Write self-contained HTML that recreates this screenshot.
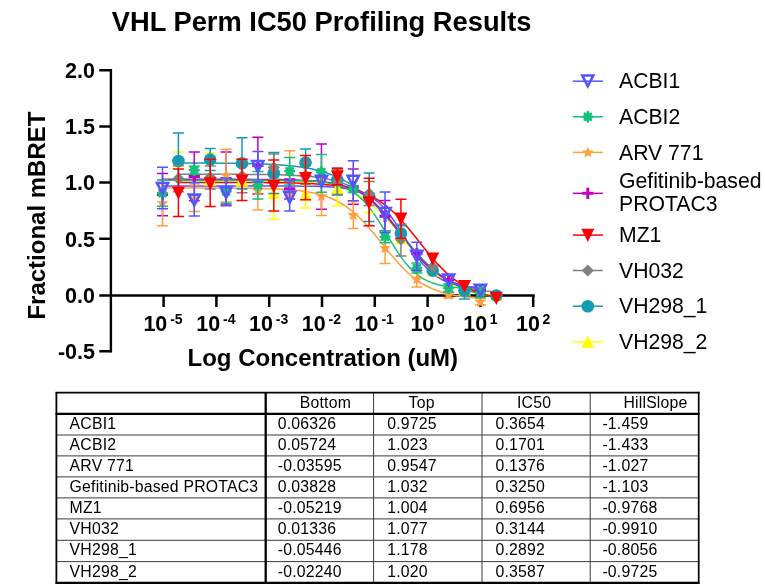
<!DOCTYPE html>
<html><head><meta charset="utf-8"><title>VHL Perm IC50 Profiling Results</title>
<style>
html,body{margin:0;padding:0;background:#fff;}
body{width:765px;height:587px;overflow:hidden;font-family:"Liberation Sans",sans-serif;}
svg{display:block;will-change:transform;}
text{font-family:"Liberation Sans",sans-serif;fill:#000;}
.ttl{font-size:27.3px;font-weight:bold;}
.ax{font-size:24px;font-weight:bold;}
.tk{font-size:21.5px;font-weight:bold;}
.sup{font-size:14px;font-weight:bold;}
.lg{font-size:21.2px;}
.tb{font-size:15.8px;letter-spacing:0.2px;}
</style></head>
<body>
<svg width="765" height="587" viewBox="0 0 765 587">
<rect width="765" height="587" fill="#fff"/>
<text x="321.6" y="30.9" text-anchor="middle" class="ttl">VHL Perm IC50 Profiling Results</text>
<text transform="translate(45.2 215.6) rotate(-90)" text-anchor="middle" class="ax">Fractional mBRET</text>
<text x="322.8" y="366.1" text-anchor="middle" class="ax">Log Concentration (uM)</text>
<path d="M110.9 69V352.6" stroke="#000" stroke-width="2.4" fill="none"/>
<path d="M99.3 70.2H110.9M99.3 126.4H110.9M99.3 182.6H110.9M99.3 238.8H110.9M99.3 295.5H110.9M99.3 351.3H110.9" stroke="#000" stroke-width="2.5" fill="none"/>
<path d="M109.7 295.5H534.8" stroke="#000" stroke-width="2.6" fill="none"/>
<path d="M163.6 295.5V307M216.4 295.5V307M269.2 295.5V307M322 295.5V307M374.8 295.5V307M427.6 295.5V307M480.4 295.5V307M533.2 295.5V307" stroke="#000" stroke-width="2.5" fill="none"/>
<text x="95" y="77.9" text-anchor="end" class="tk">2.0</text>
<text x="95" y="134.1" text-anchor="end" class="tk">1.5</text>
<text x="95" y="190.3" text-anchor="end" class="tk">1.0</text>
<text x="95" y="246.5" text-anchor="end" class="tk">0.5</text>
<text x="95" y="303.2" text-anchor="end" class="tk">0.0</text>
<text x="95" y="359" text-anchor="end" class="tk">-0.5</text>
<text x="143.4" y="330.7" class="tk">10</text><text x="170.2" y="324.2" class="sup">-5</text>
<text x="196.2" y="330.7" class="tk">10</text><text x="223" y="324.2" class="sup">-4</text>
<text x="249" y="330.7" class="tk">10</text><text x="275.8" y="324.2" class="sup">-3</text>
<text x="301.8" y="330.7" class="tk">10</text><text x="328.6" y="324.2" class="sup">-2</text>
<text x="354.6" y="330.7" class="tk">10</text><text x="381.4" y="324.2" class="sup">-1</text>
<text x="410.4" y="330.7" class="tk">10</text><text x="436.9" y="324.2" class="sup">0</text>
<text x="463.2" y="330.7" class="tk">10</text><text x="489.7" y="324.2" class="sup">1</text>
<text x="516" y="330.7" class="tk">10</text><text x="542.5" y="324.2" class="sup">2</text>
<path d="M178.41 180.66L183.71 180.66L189.01 180.66L194.31 180.67L199.6 180.67L204.9 180.68L210.2 180.68L215.5 180.69L220.8 180.7L226.1 180.71L231.39 180.73L236.69 180.75L241.99 180.77L247.29 180.8L252.59 180.84L257.88 180.89L263.18 180.95L268.48 181.02L273.78 181.11L279.08 181.23L284.37 181.38L289.67 181.56L294.97 181.79L300.27 182.07L305.57 182.42L310.87 182.86L316.16 183.4L321.46 184.07L326.76 184.9L332.06 185.93L337.36 187.18L342.65 188.72L347.95 190.58L353.25 192.82L358.55 195.5L363.85 198.66L369.14 202.36L374.44 206.62L379.74 211.44L385.04 216.81L390.34 222.65L395.64 228.88L400.93 235.37L406.23 241.95L411.53 248.46L416.83 254.75L422.13 260.68L427.42 266.14L432.72 271.07L438.02 275.44L443.32 279.24L448.62 282.51L453.91 285.27L459.21 287.6L464.51 289.52L469.81 291.12L475.11 292.42L480.41 293.49L485.7 294.35L491 295.05L496.3 295.62" fill="none" stroke="#ffff00" stroke-width="1.5"/>
<path d="M178.41 162.93L183.71 162.95L189.01 162.96L194.31 162.98L199.6 163L204.9 163.03L210.2 163.06L215.5 163.09L220.8 163.14L226.1 163.19L231.39 163.26L236.69 163.33L241.99 163.43L247.29 163.54L252.59 163.68L257.88 163.84L263.18 164.03L268.48 164.27L273.78 164.55L279.08 164.89L284.37 165.29L289.67 165.77L294.97 166.35L300.27 167.04L305.57 167.87L310.87 168.84L316.16 170L321.46 171.37L326.76 172.98L332.06 174.87L337.36 177.07L342.65 179.62L347.95 182.56L353.25 185.92L358.55 189.73L363.85 193.99L369.14 198.71L374.44 203.87L379.74 209.44L385.04 215.36L390.34 221.55L395.64 227.92L400.93 234.37L406.23 240.78L411.53 247.04L416.83 253.06L422.13 258.75L427.42 264.05L432.72 268.92L438.02 273.33L443.32 277.28L448.62 280.79L453.91 283.86L459.21 286.54L464.51 288.85L469.81 290.84L475.11 292.53L480.41 293.98L485.7 295.2L491 296.23L496.3 297.1" fill="none" stroke="#149ab2" stroke-width="1.5"/>
<path d="M178.41 174.25L183.71 174.25L189.01 174.25L194.31 174.25L199.6 174.26L204.9 174.26L210.2 174.27L215.5 174.28L220.8 174.29L226.1 174.3L231.39 174.32L236.69 174.34L241.99 174.36L247.29 174.39L252.59 174.43L257.88 174.48L263.18 174.55L268.48 174.62L273.78 174.72L279.08 174.85L284.37 175L289.67 175.2L294.97 175.45L300.27 175.75L305.57 176.14L310.87 176.62L316.16 177.21L321.46 177.95L326.76 178.87L332.06 180.01L337.36 181.4L342.65 183.11L347.95 185.19L353.25 187.69L358.55 190.67L363.85 194.2L369.14 198.3L374.44 203L379.74 208.3L385.04 214.14L390.34 220.44L395.64 227.08L400.93 233.89L406.23 240.72L411.53 247.37L416.83 253.69L422.13 259.56L427.42 264.88L432.72 269.61L438.02 273.75L443.32 277.3L448.62 280.31L453.91 282.83L459.21 284.93L464.51 286.65L469.81 288.06L475.11 289.21L480.41 290.14L485.7 290.89L491 291.49L496.3 291.98" fill="none" stroke="#808080" stroke-width="1.5"/>
<path d="M178.41 182.45L183.71 182.46L189.01 182.46L194.31 182.46L199.6 182.46L204.9 182.46L210.2 182.47L215.5 182.47L220.8 182.48L226.1 182.48L231.39 182.49L236.69 182.5L241.99 182.51L247.29 182.53L252.59 182.55L257.88 182.57L263.18 182.6L268.48 182.64L273.78 182.69L279.08 182.75L284.37 182.83L289.67 182.92L294.97 183.04L300.27 183.19L305.57 183.38L310.87 183.61L316.16 183.9L321.46 184.26L326.76 184.71L332.06 185.27L337.36 185.97L342.65 186.83L347.95 187.88L353.25 189.18L358.55 190.77L363.85 192.69L369.14 195.01L374.44 197.78L379.74 201.05L385.04 204.87L390.34 209.27L395.64 214.24L400.93 219.76L406.23 225.77L411.53 232.15L416.83 238.77L422.13 245.46L427.42 252.07L432.72 258.42L438.02 264.39L443.32 269.88L448.62 274.81L453.91 279.16L459.21 282.94L464.51 286.17L469.81 288.9L475.11 291.19L480.41 293.09L485.7 294.65L491 295.93L496.3 296.97" fill="none" stroke="#ff0000" stroke-width="1.5"/>
<path d="M162.51 179.3L167.81 179.3L173.11 179.3L178.41 179.3L183.7 179.3L189 179.3L194.3 179.31L199.6 179.31L204.9 179.31L210.2 179.31L215.49 179.31L220.79 179.32L226.09 179.32L231.39 179.33L236.69 179.34L241.98 179.35L247.28 179.37L252.58 179.39L257.88 179.41L263.18 179.44L268.47 179.48L273.77 179.54L279.07 179.6L284.37 179.69L289.67 179.81L294.97 179.95L300.26 180.14L305.56 180.38L310.86 180.69L316.16 181.09L321.46 181.59L326.75 182.24L332.05 183.07L337.35 184.11L342.65 185.43L347.95 187.09L353.24 189.15L358.54 191.69L363.84 194.79L369.14 198.52L374.44 202.91L379.74 208.01L385.03 213.77L390.33 220.12L395.63 226.93L400.93 233.99L406.23 241.09L411.52 248L416.82 254.52L422.12 260.5L427.42 265.83L432.72 270.46L438.01 274.41L443.31 277.71L448.61 280.44L453.91 282.65L459.21 284.44L464.51 285.87L469.8 287L475.1 287.89L480.4 288.6" fill="none" stroke="#c000c0" stroke-width="1.5"/>
<path d="M162.51 188L167.81 188L173.11 188.01L178.41 188.01L183.7 188.01L189 188.02L194.3 188.02L199.6 188.03L204.9 188.04L210.2 188.05L215.49 188.06L220.79 188.08L226.09 188.1L231.39 188.13L236.69 188.16L241.98 188.21L247.28 188.26L252.58 188.33L257.88 188.42L263.18 188.54L268.47 188.68L273.77 188.86L279.07 189.09L284.37 189.38L289.67 189.74L294.97 190.2L300.26 190.78L305.56 191.5L310.86 192.4L316.16 193.52L321.46 194.9L326.75 196.61L332.05 198.7L337.35 201.22L342.65 204.25L347.95 207.83L353.24 211.99L358.54 216.76L363.84 222.11L369.14 227.96L374.44 234.23L379.74 240.75L385.03 247.35L390.33 253.85L395.63 260.08L400.93 265.9L406.23 271.19L411.52 275.89L416.82 280L422.12 283.52L427.42 286.49L432.72 288.97L438.01 291.02L443.31 292.69L448.61 294.05L453.91 295.14L459.21 296.02L464.51 296.73L469.8 297.29L475.1 297.74L480.4 298.09" fill="none" stroke="#ffa040" stroke-width="1.5"/>
<path d="M162.51 180.31L167.81 180.31L173.11 180.31L178.41 180.31L183.7 180.31L189 180.31L194.3 180.31L199.6 180.31L204.9 180.31L210.2 180.31L215.49 180.31L220.79 180.32L226.09 180.32L231.39 180.32L236.69 180.32L241.98 180.33L247.28 180.33L252.58 180.34L257.88 180.35L263.18 180.36L268.47 180.38L273.77 180.4L279.07 180.44L284.37 180.49L289.67 180.56L294.97 180.66L300.26 180.79L305.56 180.98L310.86 181.24L316.16 181.6L321.46 182.09L326.75 182.78L332.05 183.71L337.35 184.99L342.65 186.72L347.95 189.03L353.24 192.08L358.54 196.03L363.84 201.02L369.14 207.14L374.44 214.37L379.74 222.54L385.03 231.33L390.33 240.3L395.63 248.97L400.93 256.92L406.23 263.86L411.52 269.68L416.82 274.39L422.12 278.08L427.42 280.92L432.72 283.07L438.01 284.66L443.31 285.84L448.61 286.7L453.91 287.33L459.21 287.78L464.51 288.11L469.8 288.35L475.1 288.52L480.4 288.64" fill="none" stroke="#14c07a" stroke-width="1.5"/>
<path d="M162.51 185.99L167.81 185.99L173.11 185.99L178.41 185.99L183.7 185.99L189 185.99L194.3 185.99L199.6 185.99L204.9 185.99L210.2 185.99L215.49 185.99L220.79 185.99L226.09 185.99L231.39 186L236.69 186L241.98 186L247.28 186L252.58 186L257.88 186L263.18 186.01L268.47 186.01L273.77 186.02L279.07 186.03L284.37 186.04L289.67 186.06L294.97 186.09L300.26 186.13L305.56 186.18L310.86 186.26L316.16 186.36L321.46 186.51L326.75 186.71L332.05 187L337.35 187.4L342.65 187.95L347.95 188.72L353.24 189.77L358.54 191.2L363.84 193.15L369.14 195.74L374.44 199.14L379.74 203.51L385.03 208.96L390.33 215.51L395.63 223.06L400.93 231.33L406.23 239.92L411.52 248.36L416.82 256.2L422.12 263.12L427.42 268.96L432.72 273.7L438.01 277.43L443.31 280.3L448.61 282.45L453.91 284.05L459.21 285.23L464.51 286.08L469.8 286.7L475.1 287.15L480.4 287.47" fill="none" stroke="#5555ff" stroke-width="1.5"/>
<path d="M369.14 181.6V212.4M363.64 181.6H374.64M363.64 212.4H374.64M337.36 178.4V205.7M331.86 178.4H342.86M331.86 205.7H342.86M305.57 185.1V207.9M300.07 185.1H311.07M300.07 207.9H311.07M273.78 166.4V219.2M268.28 166.4H279.28M268.28 219.2H279.28M241.99 175.4V185.4M236.49 175.4H247.49M236.49 185.4H247.49M210.2 153.1V179.6M204.7 153.1H215.7M178.41 152.1V166.5M172.91 152.1H183.91M172.91 166.5H183.91" fill="none" stroke="#ffff00" stroke-width="1.5"/>
<path d="M490 301.3H502.6L496.3 288.6Z" fill="#ffff00"/>
<path d="M458.21 295.7H470.81L464.51 283Z" fill="#ffff00"/>
<path d="M426.42 276.4H439.02L432.72 263.7Z" fill="#ffff00"/>
<path d="M394.63 244.2H407.23L400.93 231.5Z" fill="#ffff00"/>
<path d="M331.06 194.6H343.66L337.36 181.9Z" fill="#ffff00"/>
<path d="M299.27 200.2H311.87L305.57 187.5Z" fill="#ffff00"/>
<path d="M267.48 199H280.08L273.78 186.3Z" fill="#ffff00"/>
<path d="M235.69 186.6H248.29L241.99 173.9Z" fill="#ffff00"/>
<path d="M203.9 185.8H216.5L210.2 173.1Z" fill="#ffff00"/>
<path d="M464.51 290.8V299M459.01 299H470.01M400.93 225.7V238.5M395.43 225.7H406.43M395.43 238.5H406.43M369.14 173.1V221.6M363.64 173.1H374.64M363.64 221.6H374.64M337.36 168.2V194.9M331.86 168.2H342.86M331.86 194.9H342.86M305.57 149.1V176.1M300.07 149.1H311.07M300.07 176.1H311.07M273.78 152.5V193.4M268.28 152.5H279.28M268.28 193.4H279.28M241.99 137.8V188.9M236.49 137.8H247.49M236.49 188.9H247.49M210.2 148.5V170.5M204.7 148.5H215.7M204.7 170.5H215.7M178.41 132.9V188.5M172.91 132.9H183.91M172.91 188.5H183.91" fill="none" stroke="#149ab2" stroke-width="1.5"/>
<circle cx="496.3" cy="295.5" r="6.3" fill="#149ab2"/>
<circle cx="464.51" cy="290.8" r="6.3" fill="#149ab2"/>
<circle cx="432.72" cy="270.6" r="6.3" fill="#149ab2"/>
<circle cx="400.93" cy="233.5" r="6.3" fill="#149ab2"/>
<circle cx="369.14" cy="197" r="6.3" fill="#149ab2"/>
<circle cx="337.36" cy="180" r="6.3" fill="#149ab2"/>
<circle cx="305.57" cy="162.6" r="6.3" fill="#149ab2"/>
<circle cx="273.78" cy="173.2" r="6.3" fill="#149ab2"/>
<circle cx="241.99" cy="163.4" r="6.3" fill="#149ab2"/>
<circle cx="210.2" cy="159.6" r="6.3" fill="#149ab2"/>
<circle cx="178.41" cy="161" r="6.3" fill="#149ab2"/>
<path d="M400.93 224.2V256M395.43 224.2H406.43M395.43 256H406.43M369.14 181.6V205.5M363.64 181.6H374.64M363.64 205.5H374.64M337.36 169.8V194.4M331.86 169.8H342.86M331.86 194.4H342.86M305.57 162.5V184.5M300.07 162.5H311.07M300.07 184.5H311.07M273.78 154.1V179.5M268.28 154.1H279.28M268.28 179.5H279.28M241.99 159.5V192.7M236.49 159.5H247.49M236.49 192.7H247.49M210.2 165.9V188.9M204.7 165.9H215.7M204.7 188.9H215.7M178.41 165.5V191.7M172.91 165.5H183.91M172.91 191.7H183.91" fill="none" stroke="#808080" stroke-width="1.5"/>
<path d="M426.62 266.8L432.72 260.7L438.82 266.8L432.72 272.9Z" fill="#808080"/>
<path d="M394.83 239.5H407.03L400.93 245.6Z" fill="#808080"/>
<path d="M363.04 193.6L369.14 187.5L375.24 193.6L369.14 199.7Z" fill="#808080"/>
<path d="M331.26 181.7L337.36 175.6L343.46 181.7L337.36 187.8Z" fill="#808080"/>
<path d="M299.47 175.5L305.57 169.4L311.67 175.5L305.57 181.6Z" fill="#808080"/>
<path d="M267.68 167.5L273.78 161.4L279.88 167.5L273.78 173.6Z" fill="#808080"/>
<path d="M235.89 176L241.99 169.9L248.09 176L241.99 182.1Z" fill="#808080"/>
<path d="M204.1 177.3L210.2 171.2L216.3 177.3L210.2 183.4Z" fill="#808080"/>
<path d="M172.31 178.7L178.41 172.6L184.51 178.7L178.41 184.8Z" fill="#808080"/>
<path d="M400.93 199.2V238.4M395.43 199.2H406.43M395.43 238.4H406.43M369.14 178.3V225.8M363.64 178.3H374.64M363.64 225.8H374.64M337.36 168.2V184.8M331.86 168.2H342.86M331.86 184.8H342.86M305.57 155.4V199.7M300.07 155.4H311.07M300.07 199.7H311.07M273.78 160.1V211M268.28 160.1H279.28M268.28 211H279.28M241.99 159.3V200.5M236.49 159.3H247.49M236.49 200.5H247.49M210.2 159.3V206.6M204.7 159.3H215.7M204.7 206.6H215.7M178.41 169V216.4M172.91 169H183.91M172.91 216.4H183.91" fill="none" stroke="#ff0000" stroke-width="1.5"/>
<path d="M489.8 291.7H502.8L496.3 304.9Z" fill="#ff0000"/>
<path d="M458.01 279.9H471.01L464.51 293.1Z" fill="#ff0000"/>
<path d="M426.22 252.5H439.22L432.72 265.7Z" fill="#ff0000"/>
<path d="M394.43 212.5H407.43L400.93 225.7Z" fill="#ff0000"/>
<path d="M362.64 196.2H375.64L369.14 209.4Z" fill="#ff0000"/>
<path d="M330.86 170.2H343.86L337.36 183.4Z" fill="#ff0000"/>
<path d="M299.07 172.1H312.07L305.57 185.3Z" fill="#ff0000"/>
<path d="M267.28 180.1H280.28L273.78 193.3Z" fill="#ff0000"/>
<path d="M235.49 174.4H248.49L241.99 187.6Z" fill="#ff0000"/>
<path d="M203.7 177.3H216.7L210.2 190.5Z" fill="#ff0000"/>
<path d="M171.91 186.6H184.91L178.41 199.8Z" fill="#ff0000"/>
<path d="M385.03 200.4V230.8M379.53 200.4H390.53M379.53 230.8H390.53M353.24 169.1V204.3M347.74 169.1H358.74M347.74 204.3H358.74M321.46 144.1V209.3M315.96 144.1H326.96M315.96 209.3H326.96M289.67 178.9V199M284.17 178.9H295.17M284.17 199H295.17M257.88 137.2V194M252.38 137.2H263.38M252.38 194H263.38M226.09 152.1V205M220.59 152.1H231.59M220.59 205H231.59M194.3 152.1V200.8M188.8 152.1H199.8M188.8 200.8H199.8M162.51 173.4V215.7M157.01 173.4H168.01M157.01 215.7H168.01" fill="none" stroke="#c000c0" stroke-width="1.5"/>
<path d="M474.8 290H486M480.4 284.4V295.6" stroke="#c000c0" stroke-width="3" fill="none"/>
<path d="M443.01 279.5H454.21M448.61 273.9V285.1" stroke="#c000c0" stroke-width="3" fill="none"/>
<path d="M411.22 253.5H422.42M416.82 247.9V259.1" stroke="#c000c0" stroke-width="3" fill="none"/>
<path d="M379.43 216.3H390.63M385.03 210.7V221.9" stroke="#c000c0" stroke-width="3" fill="none"/>
<path d="M347.64 186.7H358.84M353.24 181.1V192.3" stroke="#c000c0" stroke-width="3" fill="none"/>
<path d="M315.86 176.7H327.06M321.46 171.1V182.3" stroke="#c000c0" stroke-width="3" fill="none"/>
<path d="M284.07 188.7H295.27M289.67 183.1V194.3" stroke="#c000c0" stroke-width="3" fill="none"/>
<path d="M252.28 165.6H263.48M257.88 160V171.2" stroke="#c000c0" stroke-width="3" fill="none"/>
<path d="M220.49 178.4H231.69M226.09 172.8V184" stroke="#c000c0" stroke-width="3" fill="none"/>
<path d="M188.7 176.4H199.9M194.3 170.8V182" stroke="#c000c0" stroke-width="3" fill="none"/>
<path d="M156.91 194.6H168.11M162.51 189V200.2" stroke="#c000c0" stroke-width="3" fill="none"/>
<path d="M480.4 298.8V304.8M474.9 298.8H485.9M474.9 304.8H485.9M448.61 292V298M443.11 292H454.11M443.11 298H454.11M416.82 271.3V286.9M411.32 271.3H422.32M411.32 286.9H422.32M385.03 232V263.5M379.53 232H390.53M379.53 263.5H390.53M353.24 201.4V228.6M347.74 201.4H358.74M347.74 228.6H358.74M321.46 176.5V215.4M315.96 176.5H326.96M315.96 215.4H326.96M289.67 150.8V194.8M284.17 150.8H295.17M257.88 182.1V210M252.38 182.1H263.38M252.38 210H263.38M226.09 149.3V202.1M220.59 149.3H231.59M220.59 202.1H231.59M194.3 185.1V211.6M188.8 185.1H199.8M188.8 211.6H199.8M162.51 180.4V225.8M157.01 180.4H168.01M157.01 225.8H168.01" fill="none" stroke="#ffa040" stroke-width="1.5"/>
<polygon points="480.4,295.8 481.99,299.82 486.3,300.08 482.97,302.83 484.04,307.02 480.4,304.7 476.76,307.02 477.83,302.83 474.5,300.08 478.81,299.82" fill="#ffa040"/>
<polygon points="448.61,289 450.2,293.02 454.51,293.28 451.18,296.03 452.26,300.22 448.61,297.9 444.97,300.22 446.04,296.03 442.71,293.28 447.02,293.02" fill="#ffa040"/>
<polygon points="416.82,273.1 418.41,277.12 422.72,277.38 419.39,280.13 420.47,284.32 416.82,282 413.18,284.32 414.25,280.13 410.93,277.38 415.24,277.12" fill="#ffa040"/>
<polygon points="385.03,242 386.62,246.02 390.93,246.28 387.6,249.03 388.68,253.22 385.03,250.9 381.39,253.22 382.47,249.03 379.14,246.28 383.45,246.02" fill="#ffa040"/>
<polygon points="353.24,209 354.83,213.02 359.14,213.28 355.81,216.03 356.89,220.22 353.24,217.9 349.6,220.22 350.68,216.03 347.35,213.28 351.66,213.02" fill="#ffa040"/>
<polygon points="321.46,190 323.04,194.02 327.35,194.28 324.02,197.03 325.1,201.22 321.46,198.9 317.81,201.22 318.89,197.03 315.56,194.28 319.87,194.02" fill="#ffa040"/>
<polygon points="289.67,188.8 291.25,192.82 295.56,193.08 292.24,195.83 293.31,200.02 289.67,197.7 286.02,200.02 287.1,195.83 283.77,193.08 288.08,192.82" fill="#ffa040"/>
<polygon points="257.88,184.5 259.47,188.52 263.78,188.78 260.45,191.53 261.52,195.72 257.88,193.4 254.23,195.72 255.31,191.53 251.98,188.78 256.29,188.52" fill="#ffa040"/>
<polygon points="226.09,169.5 227.68,173.52 231.99,173.78 228.66,176.53 229.73,180.72 226.09,178.4 222.45,180.72 223.52,176.53 220.19,173.78 224.5,173.52" fill="#ffa040"/>
<polygon points="194.3,192.6 195.89,196.62 200.2,196.88 196.87,199.63 197.95,203.82 194.3,201.5 190.66,203.82 191.73,199.63 188.4,196.88 192.71,196.62" fill="#ffa040"/>
<polygon points="162.51,197.1 164.1,201.12 168.41,201.38 165.08,204.13 166.16,208.32 162.51,206 158.87,208.32 159.94,204.13 156.62,201.38 160.93,201.12" fill="#ffa040"/>
<path d="M480.4 287.5V297.5M474.9 287.5H485.9M474.9 297.5H485.9M448.61 284.1V292.1M443.11 284.1H454.11M443.11 292.1H454.11M416.82 263V273M411.32 263H422.32M411.32 273H422.32M385.03 230.8V242.8M379.53 230.8H390.53M379.53 242.8H390.53M353.24 186.2V192.2M347.74 186.2H358.74M347.74 192.2H358.74M321.46 154.4V192.3M315.96 154.4H326.96M315.96 192.3H326.96M289.67 157.4V185M284.17 157.4H295.17M284.17 185H295.17M257.88 171.4V199M252.38 171.4H263.38M252.38 199H263.38M226.09 178.8V203.2M220.59 178.8H231.59M220.59 203.2H231.59M194.3 166.2V174.2M188.8 166.2H199.8M188.8 174.2H199.8M162.51 179.9V206.2M157.01 179.9H168.01M157.01 206.2H168.01" fill="none" stroke="#14c07a" stroke-width="1.5"/>
<circle cx="480.4" cy="292.5" r="3.6" fill="#14c07a"/><path d="M480.4 292.5L484.65 292.5M480.4 292.5L483.41 295.51M480.4 292.5L480.4 297.2M480.4 292.5L477.39 295.51M480.4 292.5L476.15 292.5M480.4 292.5L477.39 289.49M480.4 292.5L480.4 287.8M480.4 292.5L483.41 289.49" stroke="#14c07a" stroke-width="2.7" stroke-linecap="round" fill="none"/>
<circle cx="448.61" cy="288.1" r="3.6" fill="#14c07a"/><path d="M448.61 288.1L452.86 288.1M448.61 288.1L451.62 291.11M448.61 288.1L448.61 292.8M448.61 288.1L445.61 291.11M448.61 288.1L444.36 288.1M448.61 288.1L445.61 285.09M448.61 288.1L448.61 283.4M448.61 288.1L451.62 285.09" stroke="#14c07a" stroke-width="2.7" stroke-linecap="round" fill="none"/>
<circle cx="416.82" cy="268" r="3.6" fill="#14c07a"/><path d="M416.82 268L421.07 268M416.82 268L419.83 271.01M416.82 268L416.82 272.7M416.82 268L413.82 271.01M416.82 268L412.57 268M416.82 268L413.82 264.99M416.82 268L416.82 263.3M416.82 268L419.83 264.99" stroke="#14c07a" stroke-width="2.7" stroke-linecap="round" fill="none"/>
<circle cx="385.03" cy="236.8" r="3.6" fill="#14c07a"/><path d="M385.03 236.8L389.28 236.8M385.03 236.8L388.04 239.81M385.03 236.8L385.03 241.5M385.03 236.8L382.03 239.81M385.03 236.8L380.78 236.8M385.03 236.8L382.03 233.79M385.03 236.8L385.03 232.1M385.03 236.8L388.04 233.79" stroke="#14c07a" stroke-width="2.7" stroke-linecap="round" fill="none"/>
<circle cx="353.24" cy="189.2" r="3.6" fill="#14c07a"/><path d="M353.24 189.2L357.49 189.2M353.24 189.2L356.25 192.21M353.24 189.2L353.24 193.9M353.24 189.2L350.24 192.21M353.24 189.2L348.99 189.2M353.24 189.2L350.24 186.19M353.24 189.2L353.24 184.5M353.24 189.2L356.25 186.19" stroke="#14c07a" stroke-width="2.7" stroke-linecap="round" fill="none"/>
<circle cx="321.46" cy="172" r="3.6" fill="#14c07a"/><path d="M321.46 172L325.71 172M321.46 172L324.46 175.01M321.46 172L321.46 176.7M321.46 172L318.45 175.01M321.46 172L317.21 172M321.46 172L318.45 168.99M321.46 172L321.46 167.3M321.46 172L324.46 168.99" stroke="#14c07a" stroke-width="2.7" stroke-linecap="round" fill="none"/>
<circle cx="289.67" cy="171.2" r="3.6" fill="#14c07a"/><path d="M289.67 171.2L293.92 171.2M289.67 171.2L292.67 174.21M289.67 171.2L289.67 175.9M289.67 171.2L286.66 174.21M289.67 171.2L285.42 171.2M289.67 171.2L286.66 168.19M289.67 171.2L289.67 166.5M289.67 171.2L292.67 168.19" stroke="#14c07a" stroke-width="2.7" stroke-linecap="round" fill="none"/>
<circle cx="257.88" cy="185.2" r="3.6" fill="#14c07a"/><path d="M257.88 185.2L262.13 185.2M257.88 185.2L260.88 188.21M257.88 185.2L257.88 189.9M257.88 185.2L254.87 188.21M257.88 185.2L253.63 185.2M257.88 185.2L254.87 182.19M257.88 185.2L257.88 180.5M257.88 185.2L260.88 182.19" stroke="#14c07a" stroke-width="2.7" stroke-linecap="round" fill="none"/>
<circle cx="226.09" cy="191.5" r="3.6" fill="#14c07a"/><path d="M226.09 191.5L230.34 191.5M226.09 191.5L229.1 194.51M226.09 191.5L226.09 196.2M226.09 191.5L223.08 194.51M226.09 191.5L221.84 191.5M226.09 191.5L223.08 188.49M226.09 191.5L226.09 186.8M226.09 191.5L229.1 188.49" stroke="#14c07a" stroke-width="2.7" stroke-linecap="round" fill="none"/>
<circle cx="194.3" cy="170.2" r="3.6" fill="#14c07a"/><path d="M194.3 170.2L198.55 170.2M194.3 170.2L197.31 173.21M194.3 170.2L194.3 174.9M194.3 170.2L191.3 173.21M194.3 170.2L190.05 170.2M194.3 170.2L191.3 167.19M194.3 170.2L194.3 165.5M194.3 170.2L197.31 167.19" stroke="#14c07a" stroke-width="2.7" stroke-linecap="round" fill="none"/>
<circle cx="162.51" cy="193.2" r="3.6" fill="#14c07a"/><path d="M162.51 193.2L166.76 193.2M162.51 193.2L165.52 196.21M162.51 193.2L162.51 197.9M162.51 193.2L159.51 196.21M162.51 193.2L158.26 193.2M162.51 193.2L159.51 190.19M162.51 193.2L162.51 188.5M162.51 193.2L165.52 190.19" stroke="#14c07a" stroke-width="2.7" stroke-linecap="round" fill="none"/>
<path d="M416.82 242.2V270.2M411.32 242.2H422.32M411.32 270.2H422.32M385.03 192V232.6M379.53 192H390.53M379.53 232.6H390.53M353.24 160.7V200.7M347.74 160.7H358.74M347.74 200.7H358.74M289.67 181.1V211M284.17 181.1H295.17M284.17 211H295.17M257.88 151.5V182.1M252.38 151.5H263.38M252.38 182.1H263.38M226.09 178.2V205.8M220.59 178.2H231.59M220.59 205.8H231.59M194.3 182.7V215.9M188.8 182.7H199.8M188.8 215.9H199.8M162.51 167.2V208.7M157.01 167.2H168.01M157.01 208.7H168.01" fill="none" stroke="#5555ff" stroke-width="1.5"/>
<path d="M474.85 284.85H485.95L480.4 295.65Z" fill="none" stroke="#5555ff" stroke-width="2.6" stroke-linejoin="miter"/>
<path d="M443.06 274.65H454.16L448.61 285.45Z" fill="none" stroke="#5555ff" stroke-width="2.6" stroke-linejoin="miter"/>
<path d="M411.27 250.75H422.37L416.82 261.55Z" fill="none" stroke="#5555ff" stroke-width="2.6" stroke-linejoin="miter"/>
<path d="M379.48 208.05H390.58L385.03 218.85Z" fill="none" stroke="#5555ff" stroke-width="2.6" stroke-linejoin="miter"/>
<path d="M347.69 175.75H358.79L353.24 186.55Z" fill="none" stroke="#5555ff" stroke-width="2.6" stroke-linejoin="miter"/>
<path d="M315.91 175.85H327.01L321.46 186.65Z" fill="none" stroke="#5555ff" stroke-width="2.6" stroke-linejoin="miter"/>
<path d="M284.12 191.85H295.22L289.67 202.65Z" fill="none" stroke="#5555ff" stroke-width="2.6" stroke-linejoin="miter"/>
<path d="M252.33 161.05H263.43L257.88 171.85Z" fill="none" stroke="#5555ff" stroke-width="2.6" stroke-linejoin="miter"/>
<path d="M220.54 187.15H231.64L226.09 197.95Z" fill="none" stroke="#5555ff" stroke-width="2.6" stroke-linejoin="miter"/>
<path d="M188.75 194.65H199.85L194.3 205.45Z" fill="none" stroke="#5555ff" stroke-width="2.6" stroke-linejoin="miter"/>
<path d="M156.96 182.95H168.06L162.51 193.75Z" fill="none" stroke="#5555ff" stroke-width="2.6" stroke-linejoin="miter"/>
<path d="M572.8 81.2H602.9" stroke="#5555ff" stroke-width="1.5" fill="none"/>
<path d="M582.25 75.45H593.35L587.8 86.25Z" fill="none" stroke="#5555ff" stroke-width="2.6" stroke-linejoin="miter"/>
<text x="619" y="88.4" class="lg">ACBI1</text>
<path d="M572.8 116.8H602.9" stroke="#14c07a" stroke-width="1.5" fill="none"/>
<circle cx="587.8" cy="116.8" r="3.6" fill="#14c07a"/><path d="M587.8 116.8L592.05 116.8M587.8 116.8L590.81 119.81M587.8 116.8L587.8 121.5M587.8 116.8L584.79 119.81M587.8 116.8L583.55 116.8M587.8 116.8L584.79 113.79M587.8 116.8L587.8 112.1M587.8 116.8L590.81 113.79" stroke="#14c07a" stroke-width="2.7" stroke-linecap="round" fill="none"/>
<text x="619" y="124" class="lg">ACBI2</text>
<path d="M572.8 152.4H602.9" stroke="#ffa040" stroke-width="1.5" fill="none"/>
<polygon points="587.8,146.4 589.39,150.42 593.7,150.68 590.37,153.43 591.44,157.62 587.8,155.3 584.16,157.62 585.23,153.43 581.9,150.68 586.21,150.42" fill="#ffa040"/>
<text x="619" y="159.6" class="lg">ARV 771</text>
<path d="M572.8 193.3H602.9" stroke="#c000c0" stroke-width="1.5" fill="none"/>
<path d="M582.2 193.3H593.4M587.8 187.7V198.9" stroke="#c000c0" stroke-width="3" fill="none"/>
<text x="619" y="187.7" class="lg">Gefitinib-based</text>
<text x="619" y="211.3" class="lg">PROTAC3</text>
<path d="M572.8 235.1H602.9" stroke="#ff0000" stroke-width="1.5" fill="none"/>
<path d="M581.3 228.8H594.3L587.8 242Z" fill="#ff0000"/>
<text x="619" y="242.3" class="lg">MZ1</text>
<path d="M572.8 270.5H602.9" stroke="#808080" stroke-width="1.5" fill="none"/>
<path d="M581.7 270.5L587.8 264.4L593.9 270.5L587.8 276.6Z" fill="#808080"/>
<text x="619" y="277.7" class="lg">VH032</text>
<path d="M572.8 306.2H602.9" stroke="#149ab2" stroke-width="1.5" fill="none"/>
<circle cx="587.8" cy="306.2" r="6.3" fill="#149ab2"/>
<text x="619" y="313.4" class="lg">VH298_1</text>
<path d="M572.8 341.9H602.9" stroke="#ffff00" stroke-width="1.5" fill="none"/>
<path d="M581.5 348.1H594.1L587.8 335.4Z" fill="#ffff00"/>
<text x="619" y="349.1" class="lg">VH298_2</text>
<path d="M56 435H699.5M56 455.9H699.5M56 476.9H699.5M56 497.9H699.5M56 518.9H699.5M56 540.3H699.5M56 561.6H699.5M373.6 393V583M482 393V583M590.2 393V583" stroke="#3a3a3a" stroke-width="1" fill="none"/>
<path d="M55.6 392.6H699.5" stroke="#000" stroke-width="1.7" fill="none"/>
<path d="M56.4 392.3V584" stroke="#000" stroke-width="1.8" fill="none"/>
<path d="M55.6 413.9H699.5M265.7 392.3V584M55.6 582.9H699.5" stroke="#000" stroke-width="2.3" fill="none"/><path d="M698.7 391.8V584" stroke="#000" stroke-width="1.7" fill="none"/>
<text x="299.8" y="407.6" class="tb">Bottom</text>
<text x="408.6" y="407.6" class="tb">Top</text>
<text x="517.0" y="407.6" class="tb">IC50</text>
<text x="623.4" y="407.6" class="tb">HillSlope</text>
<text x="69.6" y="428.6" class="tb">ACBI1</text>
<text x="277.8" y="428.6" class="tb">0.06326</text>
<text x="387.3" y="428.6" class="tb">0.9725</text>
<text x="495.5" y="428.6" class="tb">0.3654</text>
<text x="602.4" y="428.6" class="tb">-1.459</text>
<text x="69.6" y="449.5" class="tb">ACBI2</text>
<text x="277.8" y="449.5" class="tb">0.05724</text>
<text x="387.3" y="449.5" class="tb">1.023</text>
<text x="495.5" y="449.5" class="tb">0.1701</text>
<text x="602.4" y="449.5" class="tb">-1.433</text>
<text x="69.6" y="470.5" class="tb">ARV 771</text>
<text x="277.8" y="470.5" class="tb">-0.03595</text>
<text x="387.3" y="470.5" class="tb">0.9547</text>
<text x="495.5" y="470.5" class="tb">0.1376</text>
<text x="602.4" y="470.5" class="tb">-1.027</text>
<text x="69.6" y="491.5" class="tb">Gefitinib-based PROTAC3</text>
<text x="277.8" y="491.5" class="tb">0.03828</text>
<text x="387.3" y="491.5" class="tb">1.032</text>
<text x="495.5" y="491.5" class="tb">0.3250</text>
<text x="602.4" y="491.5" class="tb">-1.103</text>
<text x="69.6" y="512.5" class="tb">MZ1</text>
<text x="277.8" y="512.5" class="tb">-0.05219</text>
<text x="387.3" y="512.5" class="tb">1.004</text>
<text x="495.5" y="512.5" class="tb">0.6956</text>
<text x="602.4" y="512.5" class="tb">-0.9768</text>
<text x="69.6" y="533.9" class="tb">VH032</text>
<text x="277.8" y="533.9" class="tb">0.01336</text>
<text x="387.3" y="533.9" class="tb">1.077</text>
<text x="495.5" y="533.9" class="tb">0.3144</text>
<text x="602.4" y="533.9" class="tb">-0.9910</text>
<text x="69.6" y="555.2" class="tb">VH298_1</text>
<text x="277.8" y="555.2" class="tb">-0.05446</text>
<text x="387.3" y="555.2" class="tb">1.178</text>
<text x="495.5" y="555.2" class="tb">0.2892</text>
<text x="602.4" y="555.2" class="tb">-0.8056</text>
<text x="69.6" y="576.5" class="tb">VH298_2</text>
<text x="277.8" y="576.5" class="tb">-0.02240</text>
<text x="387.3" y="576.5" class="tb">1.020</text>
<text x="495.5" y="576.5" class="tb">0.3587</text>
<text x="602.4" y="576.5" class="tb">-0.9725</text>
</svg>
</body></html>
